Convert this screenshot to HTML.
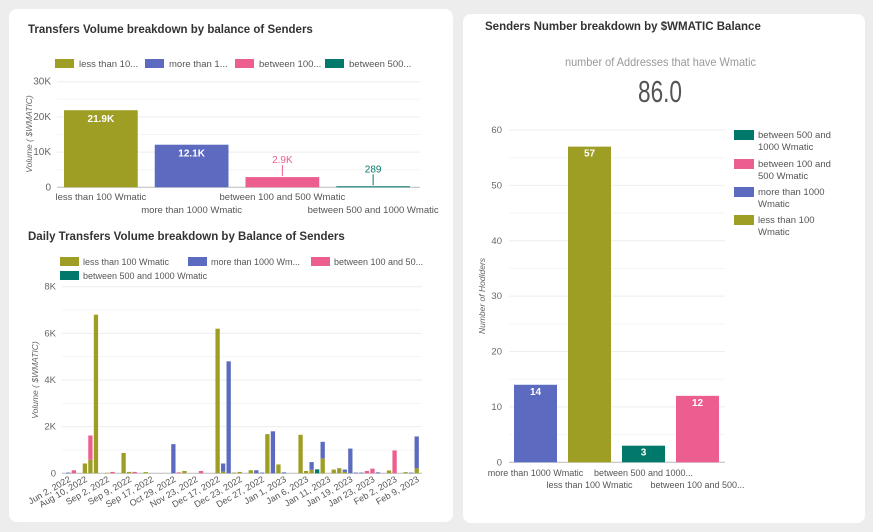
<!DOCTYPE html>
<html><head><meta charset="utf-8"><style>
body{margin:0;background:#ededed;font-family:"Liberation Sans",sans-serif;width:873px;height:532px;overflow:hidden;position:relative}
.card{position:absolute;background:#fff;border-radius:8px}
svg text{font-family:"Liberation Sans",sans-serif}
</style></head><body>
<div class="card" style="left:9px;top:9px;width:444px;height:513px"></div>
<div class="card" style="left:463px;top:14px;width:402px;height:509px"></div>
<svg width="873" height="532" style="position:absolute;left:0;top:0" id="svg">
<text x="28" y="33" font-size="11.5" font-weight="bold" fill="#333">Transfers Volume breakdown by balance of Senders</text>
<text x="28" y="240" font-size="11.5" font-weight="bold" fill="#333">Daily Transfers Volume breakdown by Balance of Senders</text>
<text x="485" y="30" font-size="11.5" font-weight="bold" fill="#333">Senders Number breakdown by $WMATIC Balance</text>
<text x="565" y="66" font-size="12" fill="#999" textLength="191" lengthAdjust="spacingAndGlyphs" style="font-family:'Liberation Sans Narrow','Liberation Sans',sans-serif">number of Addresses that have Wmatic</text>
<text x="638" y="102" font-size="31" fill="#555" textLength="44" lengthAdjust="spacingAndGlyphs" style="font-family:'Liberation Sans Narrow','Liberation Sans',sans-serif">86.0</text>
<g id="g1"></g><g id="g2"></g><g id="g3"></g>
</svg>
<script>
const NS="http://www.w3.org/2000/svg";
const C={less:"#9e9e24",more:"#5c6bc0",b100:"#ec5e8f",b500:"#00796b"};
function mk(p,t,a,txt){const e=document.createElementNS(NS,t);for(const k in a)e.setAttribute(k,a[k]);if(txt!==undefined)e.textContent=txt;p.appendChild(e);return e;}

// Chart 1 data
const c1Categories=["less than 100 Wmatic","more than 1000 Wmatic","between 100 and 500 Wmatic","between 500 and 1000 Wmatic"];
const c1Values=[21900,12100,2900,289];
const c1Labels=["21.9K","12.1K","2.9K","289"];
const c1Ticks=[0,10000,20000,30000];
const c1TickLabels=["0","10K","20K","30K"];

// Chart 2 data (per-day stacked)
const c2Less=[0,0,0,420,580,6800,0,20,0,0,870,60,0,0,50,0,0,0,0,0,0,100,0,0,0,0,0,6200,80,0,30,60,0,130,0,0,1680,0,380,0,0,0,1650,100,150,0,640,0,160,220,60,0,0,0,0,0,0,0,120,0,0,50,0,220];
const c2More=[30,0,0,0,0,0,0,0,0,0,0,0,0,0,0,0,0,0,0,1250,0,0,0,0,0,0,0,0,340,4800,0,0,0,0,130,30,0,1800,0,40,0,0,0,0,330,0,710,0,0,0,100,1060,30,30,0,0,40,0,0,0,0,0,30,1360];
const c2B100=[0,130,0,0,1040,0,0,0,60,0,0,0,60,0,0,0,0,0,0,0,40,0,0,0,100,0,0,0,0,0,0,0,0,0,0,0,0,0,0,0,0,0,0,0,0,0,0,0,0,0,0,0,0,0,100,200,0,0,0,980,0,0,0,0];
const c2B500=[0,0,0,0,0,0,0,0,0,0,0,0,0,0,0,0,0,0,0,0,0,0,0,0,0,0,0,0,0,0,0,0,0,0,0,0,0,0,0,0,0,0,0,0,0,170,0,0,0,0,0,0,0,0,0,0,0,0,0,0,0,0,0,0];
const c2TickLabelsX=["Jun 2, 2022","Aug 10, 2022","Sep 2, 2022","Sep 9, 2022","Sep 17, 2022","Oct 29, 2022","Nov 23, 2022","Dec 17, 2022","Dec 23, 2022","Dec 27, 2022","Jan 1, 2023","Jan 6, 2023","Jan 11, 2023","Jan 19, 2023","Jan 23, 2023","Feb 2, 2023","Feb 9, 2023"];
const c2TickSlots=[0,3,7,11,15,19,23,27,31,35,39,43,47,51,55,59,63];
const c2Ticks=[0,2000,4000,6000,8000];
const c2TickLabels=["0","2K","4K","6K","8K"];

// Chart 3 data
const c3Categories=["more than 1000 Wmatic","less than 100 Wmatic","between 500 and 1000...","between 100 and 500..."];
const c3Values=[14,57,3,12];
const c3Colors=[C.more,C.less,C.b500,C.b100];
const c3Ticks=[0,10,20,30,40,50,60];

// ---- Chart 1 ----
(function(){
const g=document.getElementById('g1');
const x0=57,x1=420,yb=187.3,yt=81.7,max=30000;
const y=v=>yb-(v/max)*(yb-yt);
const band=(x1-x0)/c1Categories.length;
const cols=[C.less,C.more,C.b100,C.b500];
const legend=["less than 10...","more than 1...","between 100...","between 500..."];
c1Ticks.forEach((v,i)=>{mk(g,'line',{x1:x0,x2:x1,y1:y(v),y2:y(v),stroke:i?'#eee':'#bbb'});
 if(v<max)mk(g,'line',{x1:x0,x2:x1,y1:y(v+5000),y2:y(v+5000),stroke:'#f5f5f5'});
 const t=mk(g,'text',{x:51,y:y(v)+3,'font-size':10,fill:'#666','text-anchor':'end'},c1TickLabels[i]);});
legend.forEach((l,i)=>{const lx=55+i*90;
 const r=mk(g,'rect',{x:lx,y:59,width:19,height:9,fill:cols[i]});
 const t=mk(g,'text',{x:lx+24,y:67,'font-size':9.5,fill:'#555'},l);});
const yt2=mk(g,'text',{transform:`translate(32,134) rotate(-90)`,'font-size':8.5,fill:'#666','font-style':'italic','text-anchor':'middle'},'Volume ( $WMATIC)');
c1Values.forEach((v,i)=>{const bx=x0+band*i+7,bw=band-17;
 const r=mk(g,'rect',{x:bx,y:y(v),width:bw,height:yb-y(v),fill:cols[i]});
 let t;
 if(i<2){t=mk(g,'text',{x:bx+bw/2,y:y(v)+12,'font-size':10,'font-weight':'bold',fill:'#fff','text-anchor':'middle'},c1Labels[i]);}
 else{mk(g,'line',{x1:bx+bw/2,x2:bx+bw/2,y1:y(v)-1,y2:y(v)-12,stroke:cols[i]});t=mk(g,'text',{x:bx+bw/2,y:y(v)-14,'font-size':10,fill:cols[i],'text-anchor':'middle'},c1Labels[i]);}
 
 const xl=mk(g,'text',{x:bx+bw/2,y:i%2?213:200,'font-size':9.5,fill:'#555','text-anchor':'middle'},c1Categories[i]);});
})();

// ---- Chart 2 ----
(function(){
const g=document.getElementById('g2');
const yb=473.3,yt=286.7,max=8000,x0=62,step=5.53,bw=4.3,first=68.3;
const y=v=>yb-(v/max)*(yb-yt);
const xs=i=>first+i*step;
const items=[["less than 100 Wmatic",C.less,55,261],["more than 1000 Wm...",C.more,183,261],["between 100 and 50...",C.b100,306,261],["between 500 and 1000 Wmatic",C.b500,55,275]];
items.forEach(it=>{const r=mk(g,'rect',{x:it[2]+5,y:it[3]-4,width:19,height:9,fill:it[1]});
 const t=mk(g,'text',{x:it[2]+28,y:it[3]+4,'font-size':9,fill:'#555'},it[0]);});
c2Ticks.forEach((v,i)=>{mk(g,'line',{x1:x0,x2:422,y1:y(v),y2:y(v),stroke:i?'#eee':'#bbb'});
 if(i<4)mk(g,'line',{x1:x0,x2:422,y1:y(v+1000),y2:y(v+1000),stroke:'#f5f5f5'});
 const t=mk(g,'text',{x:56,y:y(v)+3,'font-size':9.5,fill:'#666','text-anchor':'end'},c2TickLabels[i]);});
const yt2=mk(g,'text',{transform:`translate(38,380) rotate(-90)`,'font-size':8.5,fill:'#666','font-style':'italic','text-anchor':'middle'},'Volume ( $WMATIC)');
const series=[[c2Less,C.less],[c2B100,C.b100],[c2More,C.more],[c2B500,C.b500]];
for(let i=0;i<c2Less.length;i++){let acc=0;
 series.forEach(s=>{const v=s[0][i];if(!v)return;
  const r=mk(g,'rect',{x:xs(i)-bw/2,y:y(acc+v),width:bw,height:y(acc)-y(acc+v),fill:s[1]});
  acc+=v;});}
c2TickLabelsX.forEach((l,i)=>{const x=xs(c2TickSlots[i])+3;
 const t=mk(g,'text',{transform:`translate(${x},481) rotate(-30)`,'font-size':9,fill:'#555','text-anchor':'end'},l);});
})();

// ---- Chart 3 ----
(function(){
const g=document.getElementById('g3');
const x0=509,x1=725,yb=462.3,yt=130,max=60;
const y=v=>yb-(v/max)*(yb-yt);
const band=(x1-x0)/c3Categories.length;
c3Ticks.forEach(v=>{mk(g,'line',{x1:x0,x2:x1,y1:y(v),y2:y(v),stroke:v?'#eee':'#bbb'});
 if(v<60)mk(g,'line',{x1:x0,x2:x1,y1:y(v+5),y2:y(v+5),stroke:'#f5f5f5'});
 const t=mk(g,'text',{x:502,y:y(v)+3,'font-size':9.5,fill:'#666','text-anchor':'end'},String(v));});
const yt2=mk(g,'text',{transform:`translate(485,296) rotate(-90)`,'font-size':8.5,fill:'#666','font-style':'italic','text-anchor':'middle'},'Number of Hodlders');
c3Values.forEach((v,i)=>{const bx=x0+band*i+5,bw=band-11;
 const r=mk(g,'rect',{x:bx,y:y(v),width:bw,height:yb-y(v),fill:c3Colors[i]});
 const t=mk(g,'text',{x:bx+bw/2,y:y(v)+10,'font-size':10,'font-weight':'bold',fill:'#fff','text-anchor':'middle'},String(v));
 const xl=mk(g,'text',{x:bx+bw/2,y:i%2?488:476,'font-size':9,fill:'#555','text-anchor':'middle'},c3Categories[i]);});
const leg=[[C.b500,"between 500 and","1000 Wmatic",130],[C.b100,"between 100 and","500 Wmatic",159],[C.more,"more than 1000","Wmatic",187],[C.less,"less than 100","Wmatic",215]];
leg.forEach(l=>{const r=mk(g,'rect',{x:734,y:l[3],width:20,height:10,fill:l[0]});
 const t=mk(g,'text',{x:758,y:l[3]+8,'font-size':9.5,fill:'#555'},l[1]);
 mk(g,'text',{x:758,y:l[3]+20,'font-size':9.5,fill:'#555'},l[2]);});
})();
</script>
</body></html>
